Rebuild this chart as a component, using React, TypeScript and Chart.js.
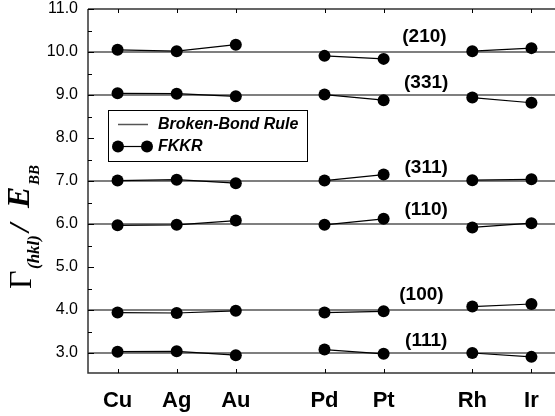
import React, { useEffect, useRef } from 'react';
import { Chart, registerables } from 'chart.js';

Chart.register(...registerables);

// ---- data ----
const categories = ['Cu', 'Ag', 'Au', 'Pd', 'Pt', 'Rh', 'Ir'];
const categoryX = [1, 2, 3, 4.5, 5.5, 7, 8];
const groupBreaks = [3.75, 6.25];
const facets = ['(210)', '(331)', '(311)', '(110)', '(100)', '(111)'];
const brokenBond = [10, 9, 7, 6, 4, 3];
const fkkr210 = [10.05, 10.02, 10.17, 9.91, 9.84, 10.02, 10.09];
const fkkr331 = [9.04, 9.03, 8.97, 9.01, 8.88, 8.94, 8.82];
const fkkr311 = [7.01, 7.03, 6.95, 7.01, 7.15, 7.02, 7.04];
const fkkr110 = [5.97, 5.98, 6.08, 5.98, 6.12, 5.92, 6.02];
const fkkr100 = [3.94, 3.93, 3.98, 3.94, 3.97, 4.08, 4.14];
const fkkr111 = [3.03, 3.04, 2.95, 3.08, 2.98, 3.0, 2.91];
const fkkrSeries = [fkkr210, fkkr331, fkkr311, fkkr110, fkkr100, fkkr111];
const yTicks = [3, 4, 5, 6, 7, 8, 9, 10, 11];
const X_MIN = 0.5;
const X_MAX = 8.5;
const Y_MIN = 2.535;
const Y_MAX = 11;

// annotation placement (data coordinates)
const facetLabelX = [6.19, 6.22, 6.22, 6.22, 6.14, 6.22];
const facetLabelY = [10.35, 9.28, 7.3, 6.33, 4.35, 3.28];

const SANS = '"Liberation Sans", Arial, Helvetica, sans-serif';
const SERIF = '"Liberation Serif", "Times New Roman", serif';

function buildFkkr(vals: number[]) {
  const pts: { x: number; y: number | null }[] = [];
  vals.forEach((v, i) => {
    pts.push({ x: categoryX[i], y: v });
    const next = categoryX[i + 1];
    if (next === undefined) return;
    groupBreaks.forEach((b) => {
      if (categoryX[i] < b && next > b) pts.push({ x: b, y: null });
    });
  });
  return pts;
}

const decor = {
  id: 'decor',
  afterDatasetsDraw(chart: any) {
    const { ctx, scales } = chart;
    const xs = scales.x;
    const ys = scales.y;
    ctx.save();
    ctx.fillStyle = '#000';
    ctx.font = `bold 19px ${SANS}`;
    ctx.textAlign = 'center';
    ctx.textBaseline = 'middle';
    facets.forEach((f, i) => {
      ctx.fillText(f, xs.getPixelForValue(facetLabelX[i]), ys.getPixelForValue(facetLabelY[i]));
    });
    ctx.restore();
  },
  afterDraw(chart: any) {
    const { ctx, chartArea, scales } = chart;
    const xs = scales.x;
    const ys = scales.y;
    const { left, right, top, bottom } = chartArea;
    ctx.save();
    // frame
    ctx.strokeStyle = '#333';
    ctx.lineWidth = 1.5;
    ctx.beginPath();
    ctx.moveTo(left, top);
    ctx.lineTo(right, top);
    ctx.moveTo(left, top);
    ctx.lineTo(left, bottom);
    ctx.lineTo(right, bottom);
    ctx.lineTo(right, top);
    ctx.stroke();
    // inner ticks
    ctx.lineWidth = 1;
    ctx.strokeStyle = '#000';
    ctx.beginPath();
    for (let v = 3; v <= Y_MAX + 1e-9; v += 0.5) {
      const py = Math.round(ys.getPixelForValue(v)) + 0.5;
      const len = Number.isInteger(v) ? 6 : 4;
      ctx.moveTo(left, py);
      ctx.lineTo(left + len, py);
      ctx.moveTo(right, py);
      ctx.lineTo(right - len, py);
    }
    categoryX.forEach((cx) => {
      const px = Math.round(xs.getPixelForValue(cx)) + 0.5;
      ctx.moveTo(px, top);
      ctx.lineTo(px, top + 4);
      ctx.moveTo(px, bottom);
      ctx.lineTo(px, bottom - 4);
    });
    ctx.stroke();

    // legend
    const bx = 108.5, by = 110.5, bw = 199, bh = 51;
    ctx.fillStyle = '#fff';
    ctx.fillRect(bx, by, bw, bh);
    ctx.strokeStyle = '#000';
    ctx.lineWidth = 1;
    ctx.strokeRect(bx, by, bw, bh);
    ctx.strokeStyle = '#555';
    ctx.lineWidth = 1.5;
    ctx.beginPath();
    ctx.moveTo(118, 124.5);
    ctx.lineTo(148, 124.5);
    ctx.stroke();
    ctx.strokeStyle = '#000';
    ctx.lineWidth = 1.2;
    ctx.beginPath();
    ctx.moveTo(118, 146.5);
    ctx.lineTo(147, 146.5);
    ctx.stroke();
    ctx.fillStyle = '#000';
    [118, 147].forEach((mx) => {
      ctx.beginPath();
      ctx.arc(mx, 146.5, 6, 0, Math.PI * 2);
      ctx.fill();
    });
    ctx.font = `italic bold 16px ${SANS}`;
    ctx.textAlign = 'left';
    ctx.textBaseline = 'middle';
    ctx.fillText('Broken-Bond Rule', 158, 125);
    ctx.fillText('FKKR', 158, 147);

    // y-axis title
    ctx.translate(0, 289);
    ctx.rotate(-Math.PI / 2);
    ctx.textBaseline = 'alphabetic';
    ctx.textAlign = 'left';
    ctx.font = `32px ${SERIF}`;
    ctx.fillText('Γ', 0, 31);
    ctx.font = `italic bold 17px ${SERIF}`;
    ctx.fillText('(hkl)', 20, 39);
    ctx.font = `italic bold 30px ${SERIF}`;
    ctx.fillText('/', 57, 29);
    ctx.font = `italic bold 32px ${SERIF}`;
    ctx.fillText('E', 81, 29);
    ctx.font = `italic bold 15px ${SERIF}`;
    ctx.fillText('BB', 104, 39);
    ctx.restore();
  },
};

export default function App() {
  const ref = useRef<HTMLCanvasElement>(null);
  useEffect(() => {
    document.body.style.margin = '0';
    const canvas = ref.current;
    if (!canvas) return;
    const datasets: any[] = [];
    brokenBond.forEach((v, i) => {
      datasets.push({
        label: 'Broken-Bond Rule ' + facets[i],
        data: [
          { x: X_MIN, y: v },
          { x: X_MAX, y: v },
        ],
        borderColor: '#555',
        borderWidth: 1.5,
        pointRadius: 0,
        order: 2,
      });
    });
    fkkrSeries.forEach((vals, i) => {
      datasets.push({
        label: 'FKKR ' + facets[i],
        data: buildFkkr(vals),
        borderColor: '#000',
        backgroundColor: '#000',
        borderWidth: 1.2,
        pointRadius: 6,
        pointBackgroundColor: '#000',
        pointBorderWidth: 0,
        spanGaps: false,
        order: 1,
      });
    });
    const chart = new Chart(canvas, {
      type: 'line',
      data: { datasets },
      plugins: [decor],
      options: {
        animation: false,
        responsive: false,
        devicePixelRatio: 1,
        layout: { padding: { left: 0, top: 9, right: -2, bottom: 0 } },
        plugins: { legend: { display: false }, tooltip: { enabled: false } },
        scales: {
          x: {
            type: 'linear',
            min: X_MIN,
            max: X_MAX,
            grid: { display: false, drawTicks: false },
            border: { display: false },
            afterBuildTicks: (s: any) => {
              s.ticks = categoryX.map((v) => ({ value: v }));
            },
            afterFit: (s: any) => {
              s.height = 43;
              s.paddingLeft = 0;
              s.paddingRight = 0;
            },
            ticks: {
              autoSkip: false,
              maxRotation: 0,
              padding: 15,
              color: '#000',
              font: { family: SANS, size: 22, weight: 'bold' },
              callback: (v: any) => categories[categoryX.indexOf(Number(v))] ?? '',
            },
          },
          y: {
            type: 'linear',
            min: Y_MIN,
            max: Y_MAX,
            grid: { display: false, drawTicks: false },
            border: { display: false },
            afterBuildTicks: (s: any) => {
              s.ticks = yTicks.map((v) => ({ value: v }));
            },
            afterFit: (s: any) => {
              s.width = 88;
              s.paddingTop = 0;
              s.paddingBottom = 0;
            },
            ticks: {
              padding: 10,
              color: '#000',
              font: { family: SANS, size: 16 },
              callback: (v: any) => Number(v).toFixed(1),
            },
          },
        },
      },
    });
    return () => chart.destroy();
  }, []);
  return (
    <div style={{ width: 555, height: 416, overflow: 'hidden' }}>
      <canvas ref={ref} width={567} height={416} style={{ display: 'block' }} />
    </div>
  );
}
